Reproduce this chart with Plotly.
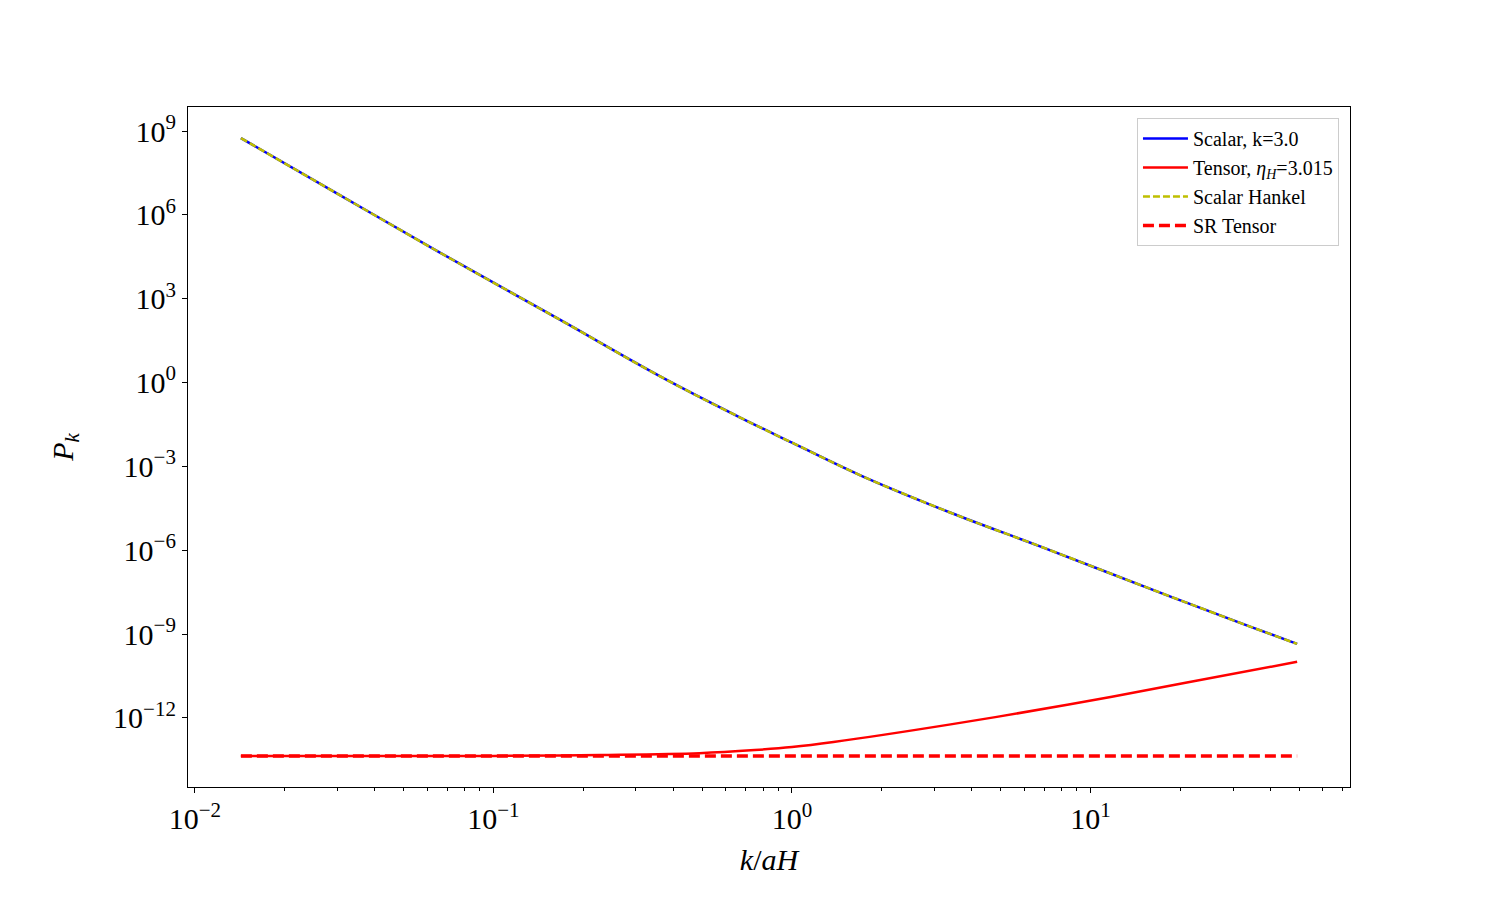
import plotly.graph_objects as go

# ---- data ----
scalar_k = [0.01426, 0.0306, 0.0662, 0.1675, 0.362, 0.671, 1.0, 1.694, 3.40, 6.81, 17.18, 34.4, 49.2]
scalar_P = [5.6e8, 5.1e6, 4.47e4, 174.0, 1.66, 0.056, 7.1e-3, 4.8e-4, 2.2e-5, 1.35e-6, 3.0e-8, 1.82e-9, 4.47e-10]

hankel_k = scalar_k
hankel_P = scalar_P

tensor_k = [0.01426, 0.0306, 0.0662, 0.1, 0.228, 0.49, 0.75, 1.0, 1.377, 3.40, 8.36, 20.6, 49.2]
tensor_P = [4.37e-14, 4.37e-14, 4.37e-14, 4.40e-14, 4.75e-14, 5.5e-14, 7.1e-14, 9.1e-14, 1.38e-13, 5.9e-13, 2.95e-12, 1.78e-11, 1.02e-10]

sr_k = [0.01426, 49.2]
sr_P = [4.37e-14, 4.37e-14]

x_tickvals = [1e-2, 1e-1, 1e0, 1e1]
x_ticktext = ["10<sup>−2</sup>", "10<sup>−1</sup>", "10<sup>0</sup>", "10<sup>1</sup>"]
y_tickvals = [1e-12, 1e-9, 1e-6, 1e-3, 1e0, 1e3, 1e6, 1e9]
y_ticktext = ["10<sup>−12</sup>", "10<sup>−9</sup>", "10<sup>−6</sup>", "10<sup>−3</sup>",
              "10<sup>0</sup>", "10<sup>3</sup>", "10<sup>6</sup>", "10<sup>9</sup>"]
x_minor = [m * 10.0 ** e for e in (-3, -2, -1, 0, 1) for m in range(2, 10)]

FONT = "Liberation Serif"

fig = go.Figure()
fig.add_trace(go.Scatter(x=scalar_k, y=scalar_P, mode="lines", name="Scalar, k=3.0",
                         line=dict(color="#0000ff", width=2.5, shape="spline", smoothing=1.0)))
fig.add_trace(go.Scatter(x=tensor_k, y=tensor_P, mode="lines",
                         name="Tensor, <i>η</i><sub><i>H</i></sub>=3.015",
                         line=dict(color="#ff0000", width=2.5, shape="spline", smoothing=1.0)))
fig.add_trace(go.Scatter(x=hankel_k, y=hankel_P, mode="lines", name="Scalar Hankel",
                         line=dict(color="#bfbf00", width=2.5, dash="7px,3px", shape="spline", smoothing=1.0)))
fig.add_trace(go.Scatter(x=sr_k, y=sr_P, mode="lines", name="SR Tensor",
                         line=dict(color="#ff0000", width=3.5, dash="11px,5px")))

fig.update_layout(
    width=1500, height=900,
    paper_bgcolor="white", plot_bgcolor="white",
    margin=dict(l=188, r=150, t=107, b=113),
    font=dict(family=FONT, color="black", size=20),
    showlegend=True,
    legend=dict(x=0.9905, y=0.984, xanchor="right", yanchor="top",
                bgcolor="rgba(255,255,255,0.8)", bordercolor="#cccccc", borderwidth=1,
                font=dict(family=FONT, size=20), tracegroupgap=0, itemwidth=45),
)
fig.update_xaxes(type="log", range=[-2.023, 1.869],
                 tickmode="array", tickvals=x_tickvals, ticktext=x_ticktext,
                 tickfont=dict(size=30, family=FONT),
                 ticks="outside", ticklen=5, tickwidth=1, tickcolor="black",
                 showline=True, linecolor="black", linewidth=1.2, mirror=True,
                 showgrid=False, zeroline=False,
                 minor=dict(tickmode="array", tickvals=x_minor, ticks="outside", ticklen=3,
                            tickwidth=1, tickcolor="black", showgrid=False),
                 title=dict(text="<i>k</i>/<i>aH</i>", font=dict(size=30, family=FONT), standoff=14))
fig.update_yaxes(type="log", range=[-14.47, 9.86],
                 tickmode="array", tickvals=y_tickvals, ticktext=y_ticktext,
                 tickfont=dict(size=30, family=FONT),
                 ticks="outside", ticklen=5, tickwidth=1, tickcolor="black",
                 showline=True, linecolor="black", linewidth=1.2, mirror=True,
                 showgrid=False, zeroline=False,
                 title=dict(text="<i>P</i><sub><i>k</i></sub>", font=dict(size=30, family=FONT), standoff=30))

fig.write_html("out.html")
